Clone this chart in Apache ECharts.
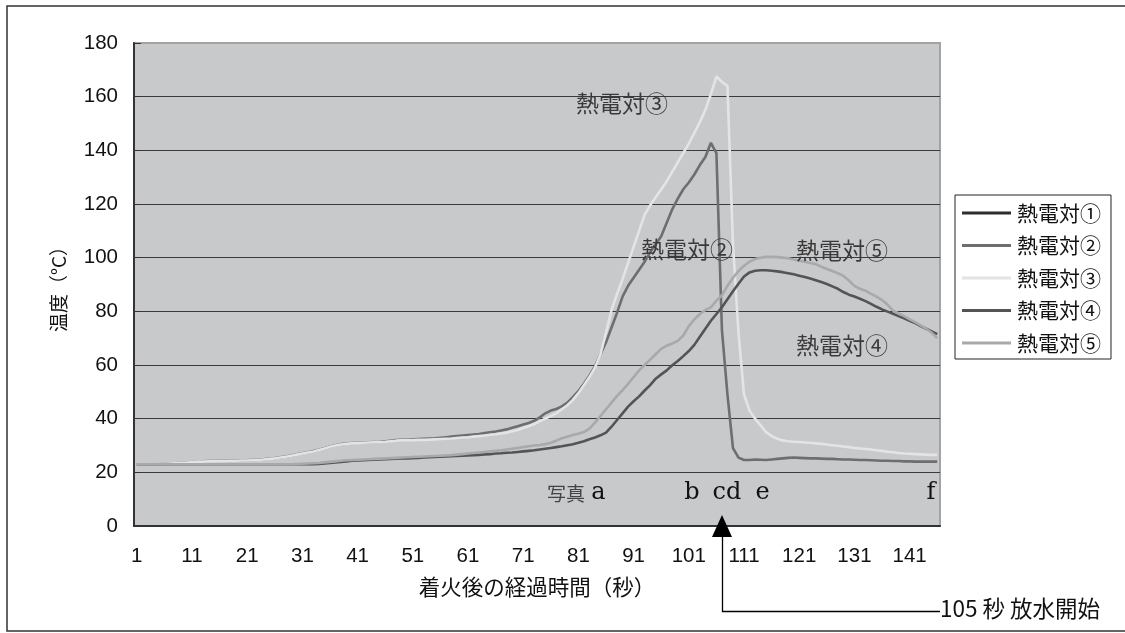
<!DOCTYPE html>
<html>
<head>
<meta charset="utf-8">
<script src="https://cdn.jsdelivr.net/npm/echarts@6/dist/echarts.min.js"></script>
<style>
  html, body { margin: 0; padding: 0; background: #ffffff; }
  #chart { width: 1125px; height: 633px; }
</style>
</head>
<body>
<div id="chart"></div>
<script>
// Elapsed seconds after ignition (category axis, one category per second)
const seconds = Array.from({ length: 146 }, (_, i) => String(i + 1));

// Y axis range (°C)
const yMin = 0, yMax = 180, yStep = 20;

const seriesNames = ['熱電対①', '熱電対②', '熱電対③', '熱電対④', '熱電対⑤'];
const seriesColors = ['#2e2e2e', '#6e6e6e', '#e4e4e4', '#545454', '#a9a9a9'];

// Thermocouple ① : no readings plotted
const tc1 = [];

// Thermocouple ②
const tc2 = [
  23, 23, 23, 23, 23, 23.2, 23.3, 23.4, 23.5, 23.6,
  23.8, 24, 24.1, 24.2, 24.2, 24.3, 24.3, 24.4, 24.4, 24.5,
  24.5, 24.6, 24.7, 24.9, 25.1, 25.3, 25.6, 25.9, 26.3, 26.7,
  27.1, 27.5, 27.9, 28.4, 29, 29.6, 30.1, 30.5, 30.7, 30.9,
  31, 31.1, 31.2, 31.3, 31.4, 31.6, 31.8, 32, 32.1, 32.2,
  32.3, 32.4, 32.5, 32.6, 32.7, 32.9, 33.1, 33.3, 33.5, 33.7,
  33.9, 34.1, 34.3, 34.6, 34.9, 35.2, 35.6, 36, 36.6, 37.2,
  37.8, 38.4, 39.2, 40.5, 42, 43, 43.6, 44.6, 46, 48,
  50.3, 53, 56, 59.5, 64, 68.5, 74, 79.5, 85.5, 89.5,
  92.5, 95.5, 98.5, 102, 105, 108, 113, 118, 122, 125.5,
  128, 131, 134.5, 137.5, 142.8, 139, 73, 49, 29, 25.5,
  24.6, 24.6, 24.8, 24.7, 24.6, 24.8, 25, 25.2, 25.4, 25.5,
  25.4, 25.3, 25.2, 25.2, 25.1, 25, 25, 24.9, 24.8, 24.8,
  24.7, 24.6, 24.6, 24.5, 24.4, 24.3, 24.3, 24.2, 24.2, 24.1,
  24.1, 24, 24, 24, 24, 24
];

// Thermocouple ③
const tc3 = [
  23, 23, 23, 23, 23, 23.2, 23.3, 23.4, 23.5, 23.6,
  23.8, 24, 24, 24.1, 24.1, 24.2, 24.2, 24.3, 24.3, 24.4,
  24.4, 24.5, 24.6, 24.8, 25, 25.2, 25.5, 25.8, 26.2, 26.6,
  27, 27.4, 27.8, 28.3, 28.9, 29.5, 30, 30.4, 30.6, 30.8,
  30.9, 31, 31.1, 31.2, 31.3, 31.4, 31.6, 31.8, 31.9, 32,
  32, 32.1, 32.1, 32.2, 32.3, 32.4, 32.5, 32.6, 32.8, 33,
  33.1, 33.3, 33.5, 33.7, 34, 34.2, 34.5, 34.8, 35.3, 35.8,
  36.5, 37.2, 38, 39, 40, 41, 42, 43.5, 45, 47,
  49.5, 52.5, 55.5, 59, 64, 72, 80.5, 86.5, 92, 98,
  104, 110, 116, 119.5, 122.5, 125.5, 128.5, 132, 135.5, 139,
  142.5, 146.5, 150.5, 155, 161, 167.5, 165.5, 164, 105, 72,
  49, 43, 40, 37.5, 35, 33.5, 32.5, 31.9, 31.6, 31.4,
  31.3, 31.1, 31, 30.8, 30.6, 30.4, 30.1, 29.9, 29.6, 29.4,
  29.1, 28.9, 28.7, 28.5, 28.2, 28, 27.7, 27.5, 27.2, 27,
  26.9, 26.8, 26.7, 26.6, 26.5, 26.5
];

// Thermocouple ④
const tc4 = [
  23, 23, 23, 23, 23, 23, 23, 23, 23, 23,
  23, 23, 23, 23, 23, 23, 23, 23, 23, 23,
  23, 23, 23, 23, 23, 23, 23, 23, 23, 23,
  23, 23, 23, 23.1, 23.3, 23.5, 23.7, 23.9, 24.1, 24.3,
  24.4, 24.5, 24.6, 24.7, 24.8, 24.9, 25, 25.1, 25.2, 25.2,
  25.3, 25.4, 25.5, 25.6, 25.7, 25.8, 25.9, 26, 26.1, 26.2,
  26.3, 26.4, 26.5, 26.7, 26.8, 27, 27.1, 27.3, 27.4, 27.6,
  27.8, 28, 28.2, 28.5, 28.8, 29.1, 29.4, 29.7, 30.1, 30.5,
  31, 31.6, 32.3, 33, 33.8, 34.8, 37, 39.5, 42, 44.5,
  46.5, 48.3, 50.5, 52.5, 54.9, 56.5, 58, 59.9, 61.5, 63.3,
  65.2, 67.5, 70.5, 73.5, 76.5, 79, 81.5, 84.5, 87.5, 90.3,
  93, 94.5, 95.1, 95.3, 95.3, 95.1, 94.9, 94.6, 94.2, 93.8,
  93.3, 92.8, 92.2, 91.6, 90.9, 90.2, 89.3, 88.4, 87.2, 86.2,
  85.5, 84.7, 83.8, 82.8, 81.7, 80.7, 79.9, 79.1, 78.2, 77.4,
  76.5, 75.6, 74.5, 73.5, 72.5, 71.5
];

// Thermocouple ⑤
const tc5 = [
  23, 23, 23, 23, 23, 23, 23, 23, 23, 23,
  23, 23, 23, 23, 23, 23, 23, 23, 23, 23,
  23, 23, 23, 23, 23, 23, 23, 23, 23, 23.1,
  23.2, 23.3, 23.4, 23.5, 23.7, 23.9, 24.1, 24.3, 24.5, 24.6,
  24.7, 24.8, 24.9, 25, 25.1, 25.2, 25.3, 25.4, 25.5, 25.6,
  25.7, 25.8, 25.9, 26, 26.1, 26.2, 26.3, 26.4, 26.6, 26.8,
  27, 27.2, 27.4, 27.6, 27.8, 28, 28.2, 28.5, 28.8, 29.1,
  29.4, 29.7, 30, 30.2, 30.5, 31, 31.8, 32.7, 33.3, 33.9,
  34.4, 35, 36.3, 38.5, 41, 43.5, 46, 48.5, 50.6, 53,
  55.5, 58, 60, 62, 64, 66, 67.2, 68, 69, 71,
  74.5, 77, 79, 80.5, 81.5, 84, 86, 89.5, 92.5, 95,
  97, 98.5, 99.5, 100, 100.3, 100.3, 100.2, 100, 99.8, 99.3,
  98.9, 98.5, 98, 97.6, 96.6, 95.8, 95, 94.2, 93.2, 91.5,
  89.5, 88.4, 87.7, 86.5, 85.5, 84.2, 82.5, 80.3, 79.2, 78.2,
  77, 76, 74.8, 73.5, 72, 70
];

const seriesData = [tc1, tc2, tc3, tc4, tc5];

const chart = echarts.init(document.getElementById('chart'), null, { renderer: 'canvas' });

const sansJP = "'Noto Sans CJK JP', 'Noto Sans', sans-serif";
const serifLatin = "'DejaVu Serif', 'Liberation Serif', serif";
const sansLatin = "'Liberation Sans', Arial, sans-serif";

const option = {
  backgroundColor: '#ffffff',
  animation: false,
  grid: {
    left: 134, right: 185, top: 43, bottom: 107,
    show: true,
    backgroundColor: '#c8c9cb',
    borderColor: '#a3a3a3',
    borderWidth: 2
  },
  legend: {
    orient: 'vertical',
    left: 955, top: 195,
    padding: [7, 10, 5, 7],
    itemGap: 10.5,
    itemWidth: 49,
    itemHeight: 3,
    icon: 'rect',
    borderColor: '#222',
    borderWidth: 1,
    backgroundColor: '#ffffff',
    textStyle: { fontFamily: sansJP, fontSize: 21, color: '#111', lineHeight: 22, padding: [0, 0, 0, 1] },
    data: seriesNames
  },
  xAxis: {
    type: 'category',
    data: seconds,
    boundaryGap: true,
    name: '着火後の経過時間（秒）',
    nameLocation: 'middle',
    nameGap: 50,
    nameTextStyle: { fontFamily: sansJP, fontSize: 21.5, color: '#111' },
    axisLine: { lineStyle: { color: '#333', width: 2 } },
    axisTick: { inside: true, length: 6, interval: 9, lineStyle: { color: '#333', width: 1 } },
    axisLabel: {
      interval: 9, margin: 20,
      fontFamily: sansLatin,
      fontSize: 20.5, color: '#111'
    },
    splitLine: { show: false }
  },
  yAxis: {
    type: 'value',
    min: yMin, max: yMax, interval: yStep,
    name: '温度（°C）',
    nameLocation: 'middle',
    nameGap: 66,
    nameTextStyle: { fontFamily: sansJP, fontSize: 19, color: '#111' },
    axisLine: { show: true, lineStyle: { color: '#333', width: 2 } },
    axisTick: { show: true, inside: true, length: 7, lineStyle: { color: '#333', width: 1 } },
    axisLabel: { margin: 16, fontFamily: sansLatin, fontSize: 20.5, color: '#111' },
    splitLine: { show: true, showMinLine: false, showMaxLine: false, lineStyle: { color: '#3a3a3a', width: 1 } }
  },
  series: seriesNames.map((name, i) => ({
    name,
    type: 'line',
    data: seriesData[i],
    symbol: 'none',
    showSymbol: false,
    smooth: false,
    lineStyle: { color: seriesColors[i], width: 2.6 },
    itemStyle: { color: seriesColors[i] },
    z: 2 + i
  })),
  graphic: [
    // outer frame
    { type: 'rect', z: 0, shape: { x: 7, y: 6, width: 1130, height: 625 },
      style: { fill: 'none', stroke: '#333', lineWidth: 1.5 } },
    // curve labels
    { type: 'text', x: 622, y: 103, z: 50, style: { text: '熱電対③', font: `23px ${sansJP}`, fill: '#3a3a3a', align: 'center', verticalAlign: 'middle' } },
    { type: 'text', x: 687, y: 249, z: 50, style: { text: '熱電対②', font: `23px ${sansJP}`, fill: '#3a3a3a', align: 'center', verticalAlign: 'middle' } },
    { type: 'text', x: 842, y: 250, z: 50, style: { text: '熱電対⑤', font: `23px ${sansJP}`, fill: '#3a3a3a', align: 'center', verticalAlign: 'middle' } },
    { type: 'text', x: 842, y: 345, z: 50, style: { text: '熱電対④', font: `23px ${sansJP}`, fill: '#3a3a3a', align: 'center', verticalAlign: 'middle' } },
    // photo markers
    { type: 'text', x: 566, y: 494, z: 50, style: { text: '写真', font: `19px ${sansJP}`, fill: '#444', align: 'center', verticalAlign: 'middle' } },
    { type: 'text', x: 598.5, y: 493, z: 50, style: { text: 'a', font: `24px ${serifLatin}`, fill: '#111', align: 'center', verticalAlign: 'middle' } },
    { type: 'text', x: 692, y: 493, z: 50, style: { text: 'b', font: `24px ${serifLatin}`, fill: '#111', align: 'center', verticalAlign: 'middle' } },
    { type: 'text', x: 727, y: 493, z: 50, style: { text: 'cd', font: `24px ${serifLatin}`, fill: '#111', align: 'center', verticalAlign: 'middle' } },
    { type: 'text', x: 762.5, y: 493, z: 50, style: { text: 'e', font: `24px ${serifLatin}`, fill: '#111', align: 'center', verticalAlign: 'middle' } },
    { type: 'text', x: 931, y: 493, z: 50, style: { text: 'f', font: `24px ${serifLatin}`, fill: '#111', align: 'center', verticalAlign: 'middle' } },
    // water discharge arrow
    { type: 'polygon', z: 50, shape: { points: [[712, 537], [732, 537], [722, 515]] }, style: { fill: '#000' } },
    { type: 'polyline', z: 50, shape: { points: [[722.5, 537], [722.5, 611.5], [940, 611.5]] }, style: { stroke: '#000', lineWidth: 1.3, fill: 'none' } },
    { type: 'text', x: 940, y: 608, z: 50, style: { text: '105 秒 放水開始', font: `22.5px ${sansJP}`, fill: '#111', align: 'left', verticalAlign: 'middle' } }
  ]
};

chart.setOption(option);
</script>
</body>
</html>
